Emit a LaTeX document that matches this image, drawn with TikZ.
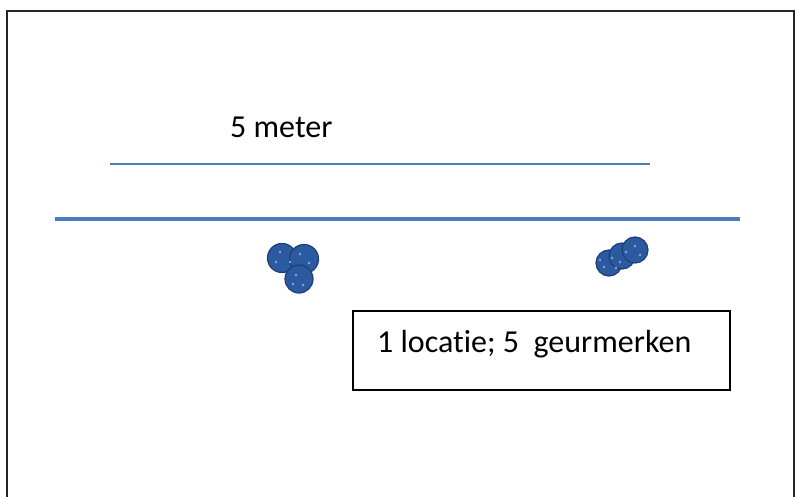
\documentclass[tikz,border=0pt]{standalone}
\usepackage{fontspec}
\setmainfont[Ligatures={NoCommon}]{Carlito}
\definecolor{lineblue}{RGB}{74,126,187}
\definecolor{blobfill}{RGB}{44,90,160}
\definecolor{blobedge}{RGB}{30,62,120}
\definecolor{speck}{RGB}{130,170,222}
\tikzset{
  frame/.style={draw=black!85, line width=2pt},
  thinline/.style={draw=lineblue, line width=1.3pt},
  thickline/.style={draw=lineblue, line width=4.5pt},
  blob/.style={circle, fill=blobfill, draw=blobedge, line width=1.2pt, inner sep=0pt},
  labelbox/.style={draw=black, line width=1.5pt, fill=white},
  labeltext/.style={font=\fontsize{32}{35}\selectfont, text=black, inner sep=0pt}
}
\begin{document}
\begin{tikzpicture}[x=1pt,y=-1pt]
\useasboundingbox (0,0) rectangle (795,497);
\fill[white] (0,0) rectangle (795,497);
% outer frame (extends past bottom)
\draw[frame] (7,520) -- (7,11) -- (794,11) -- (794,520);
% dimension line and main line
\coordinate (t1) at (110,164);
\coordinate (t2) at (650,164);
\draw[thinline] (t1) -- (t2);
\coordinate (m1) at (55,219);
\coordinate (m2) at (740,219);
\draw[thickline] (m1) -- (m2);
\node[labeltext, anchor=base west] (meter) at (230,138) {5 meter};
% left blob
\node[blob, minimum size=29pt] (a1) at (282,258) {};
\node[blob, minimum size=29pt] (a2) at (304,259) {};
\node[blob, minimum size=28pt] (a3) at (299,279) {};
% right blob
\node[blob, minimum size=26pt] (b1) at (609,263) {};
\node[blob, minimum size=26pt] (b2) at (622,256) {};
\node[blob, minimum size=26pt] (b3) at (635,250) {};
% speckles
\foreach \p in {(280,252),(290,262),(300,254),(309,263),(296,275),(303,285),(276,262),(293,284),
                (604,267),(612,258),(620,262),(626,252),(635,246),(640,255),(600,260),(616,268)}
  \fill[speck] \p circle (1.3pt);
% label box
\node[labelbox, minimum width=377pt, minimum height=79pt, anchor=north west] (box) at (352,310) {};
\node[labeltext, anchor=base west] (boxtext) at (377,352) {1 locatie; 5\ \ geurmerken};
\end{tikzpicture}
\end{document}
